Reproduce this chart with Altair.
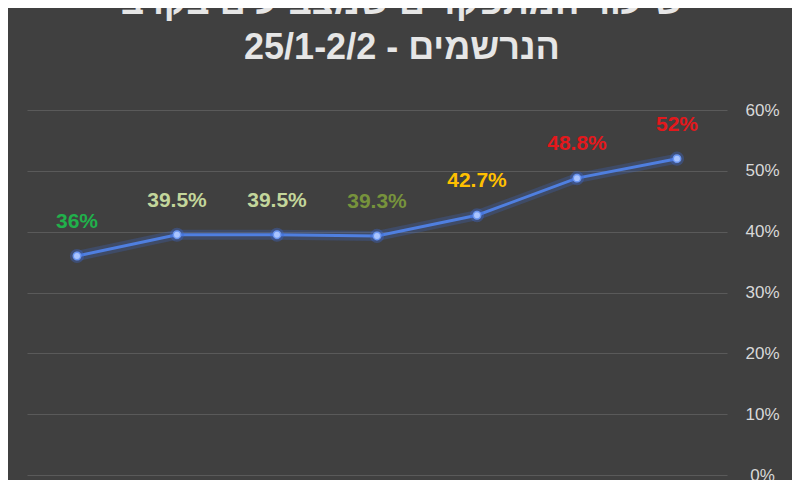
import altair as alt
import pandas as pd

categories = ["1", "2", "3", "4", "5", "6", "7"]
values = [36, 39.5, 39.5, 39.3, 42.7, 48.8, 52]
labels = ["36%", "39.5%", "39.5%", "39.3%", "42.7%", "48.8%", "52%"]
label_colors = ["#21b04b", "#c3d69b", "#c3d69b", "#77933c", "#ffc000", "#e3181c", "#e3181c"]
y_ticks = [0, 10, 20, 30, 40, 50, 60]
title_lines = ["שיעור המתפקדים שמצביעים בקרב", "25/1-2/2 - הנרשמים"]

df = pd.DataFrame({"cat": categories, "value": values, "label": labels, "lc": label_colors})

base = alt.Chart(df).encode(
    x=alt.X("cat:N", sort=None, scale=alt.Scale(type="point", padding=0.5), axis=None),
    y=alt.Y(
        "value:Q",
        scale=alt.Scale(domain=[0, 60]),
        axis=alt.Axis(
            orient="right", values=y_ticks, labelExpr="datum.value + '%'", title=None,
            domain=False, ticks=False, grid=True, gridColor="#5a5a5a", gridWidth=1.2,
            labelColor="#d9d9d9", labelFontSize=17, labelFont="Liberation Sans",
            labelPadding=35, labelAlign="center",
        ),
    ),
)

glow = base.mark_line(color="#3d6ad6", strokeWidth=10, opacity=0.25)
line = base.mark_line(color="#4f7fe0", strokeWidth=3)
pts_glow = base.mark_point(filled=True, size=200, color="#3d6ad6", opacity=0.35)
pts = base.mark_point(filled=True, size=55, color="#a9c4ff", stroke="#6a95f0", strokeWidth=1.5, opacity=1)
text = base.mark_text(dy=-34, fontSize=21, fontWeight="bold", font="Liberation Sans").encode(
    text="label:N", color=alt.Color("lc:N", scale=None)
)

chart = alt.layer(glow, line, pts_glow, pts, text).properties(
    width=700,
    height=365,
    background="#404040",
    padding={"top": 102, "left": 19, "right": 65, "bottom": 20},
    autosize=alt.AutoSizeParams(type="none"),
    title=alt.TitleParams(
        text=title_lines, fontSize=36, font="Liberation Sans", fontWeight="bold",
        color="#e6e6e6", lineHeight=45, anchor="middle", offset=34, dx=25,
    ),
).configure_view(stroke=None)

chart.save("out.html", embed_options={"renderer": "svg", "actions": False})
